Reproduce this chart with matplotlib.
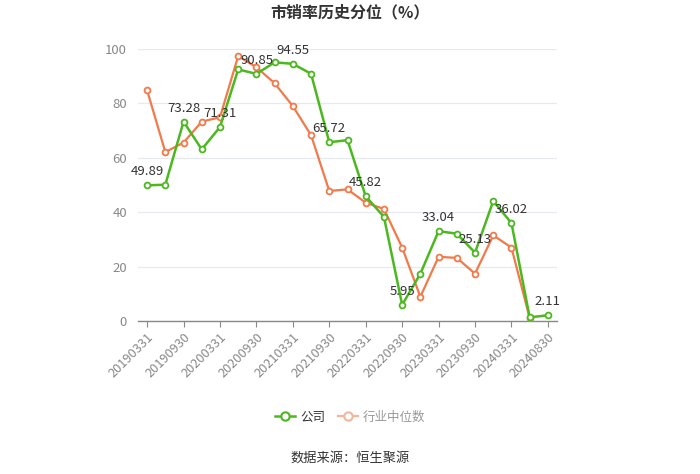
import matplotlib
matplotlib.use("Agg")
import matplotlib.pyplot as plt
import numpy as np
from matplotlib.lines import Line2D

plt.rcParams['font.family'] = ['Noto Sans CJK SC', 'DejaVu Sans']

dates = ["20190331", "20190630", "20190930", "20191231",
         "20200331", "20200630", "20200930", "20201231",
         "20210331", "20210630", "20210930", "20211231",
         "20220331", "20220630", "20220930", "20221231",
         "20230331", "20230630", "20230930", "20231231",
         "20240331", "20240630", "20240830"]
company = [49.89, 50.1, 73.28, 63.1, 71.31, 92.5, 90.85, 95.1, 94.55, 90.9,
           65.72, 66.5, 45.82, 38.3, 5.95, 17.4, 33.04, 32.1, 25.13, 44.1,
           36.02, 1.35, 2.11]
industry = [84.8, 62.1, 65.6, 73.3, 74.9, 97.4, 93.3, 87.4, 79.0, 68.3,
            47.8, 48.4, 43.5, 41.2, 27.0, 8.9, 23.6, 23.2, 17.4, 31.5,
            27.0, 1.1, np.nan]
yticks = [0, 20, 40, 60, 80, 100]

GREEN = "#4cb81f"
ORANGE = "#f27a4a"

fig = plt.figure(figsize=(7, 4.74), dpi=100)
ax = fig.add_axes([138/700, 1-321/474, 419/700, 272/474])

x = np.arange(len(dates))
ax.plot(x, industry, color=ORANGE, lw=1.6, marker='o', ms=4.2,
        mfc='white', mec=ORANGE, mew=1.3, zorder=3)
ax.plot(x, company, color=GREEN, lw=1.8, marker='o', ms=4.2,
        mfc='white', mec=GREEN, mew=1.3, zorder=4)

for i in range(0, len(dates), 2):
    ax.annotate(f"{company[i]:.2f}", (x[i], company[i]), xytext=(0, 5),
                textcoords='offset points', ha='center', va='bottom',
                fontsize=9.5, color='#333333', zorder=5)

ax.set_xlim(-0.5, len(dates) - 0.5)
ax.set_ylim(0, 100)
ax.set_yticks(yticks)
ax.set_yticklabels([str(v) for v in yticks], fontsize=9.5, color='#888888')
ax.set_xticks(x[::2])
ax.set_xticklabels(dates[::2], rotation=45, ha='right', rotation_mode='anchor',
                   fontsize=9.2, color='#888888')
ax.tick_params(axis='y', length=0, pad=8)
ax.tick_params(axis='x', length=4, color='#888888', pad=3)
ax.grid(axis='y', color='#e6e9ef', lw=0.9)
ax.set_axisbelow(True)
for s in ['top', 'right', 'left']:
    ax.spines[s].set_visible(False)
ax.spines['bottom'].set_color('#888888')
ax.spines['bottom'].set_linewidth(1.0)

fig.text(0.5, 1-12/474, "市销率历史分位（%）", ha='center', va='center',
         fontsize=11.5, fontweight='bold', color='#333333')

# legend
handles = [Line2D([0], [0], color=GREEN, lw=1.8, marker='o', ms=6, mfc='white', mec=GREEN, mew=1.5),
           Line2D([0], [0], color='#f5b49c', lw=1.6, marker='o', ms=6, mfc='white', mec='#f5b49c', mew=1.5)]
leg = fig.legend(handles, ["公司", "行业中位数"], loc='center', bbox_to_anchor=(0.5, 1-417/474),
                 ncol=2, frameon=False, fontsize=9, handlelength=1.6, columnspacing=1.0,
                 handletextpad=0.4)
leg.get_texts()[0].set_color('#333333')
leg.get_texts()[1].set_color('#999999')

fig.text(0.5, 1-458/474, "数据来源：恒生聚源", ha='center', va='center',
         fontsize=9.5, color='#333333')

fig.savefig("out.png", dpi=100)
